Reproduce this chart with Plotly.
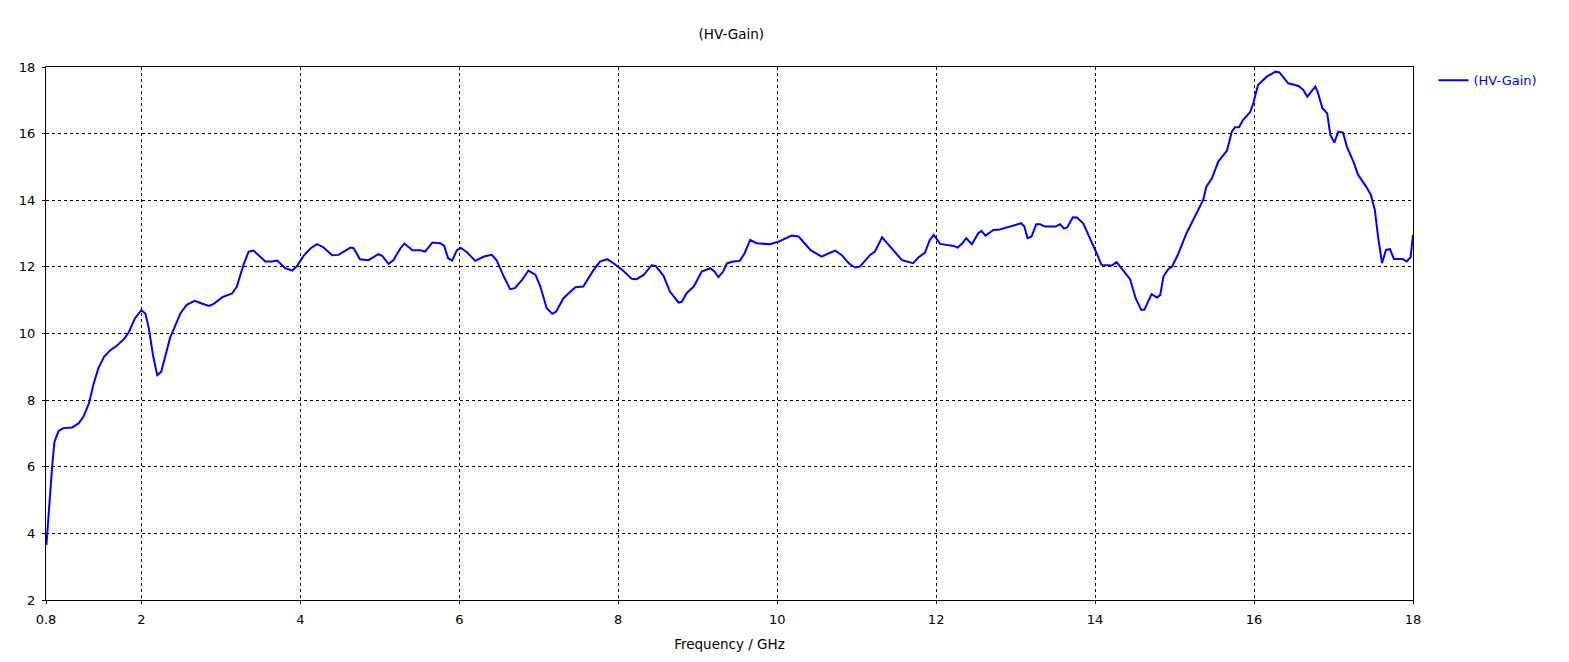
import plotly.graph_objects as go

# HV-Gain trace (frequency in GHz, gain)
freq = [0.805, 0.82, 0.846, 0.877, 0.906, 0.96, 1.02, 1.13, 1.21, 1.27, 1.34, 1.40, 1.46, 1.53,
        1.61, 1.69, 1.78, 1.84, 1.92, 2.0, 2.05, 2.09, 2.15, 2.2, 2.25, 2.30, 2.36, 2.43, 2.49,
        2.57, 2.67, 2.76, 2.85, 2.91, 3.02, 3.14, 3.2, 3.29, 3.35, 3.41, 3.48, 3.56, 3.64, 3.71,
        3.81, 3.90, 3.96, 4.04, 4.13, 4.21, 4.29, 4.40, 4.48, 4.57, 4.63, 4.67, 4.75, 4.86, 4.98,
        5.03, 5.11, 5.17, 5.26, 5.31, 5.41, 5.51, 5.57, 5.66, 5.76, 5.81, 5.86, 5.91, 5.97, 6.02,
        6.10, 6.2, 6.31, 6.41, 6.47, 6.56, 6.64, 6.70, 6.79, 6.87, 6.96, 7.02, 7.10, 7.17, 7.22,
        7.31, 7.46, 7.56, 7.69, 7.77, 7.86, 7.94, 8.05, 8.17, 8.23, 8.32, 8.42, 8.47, 8.57, 8.65,
        8.76, 8.80, 8.86, 8.95, 9.05, 9.16, 9.21, 9.26, 9.32, 9.37, 9.45, 9.53, 9.59, 9.66, 9.74,
        9.91, 10.02, 10.18, 10.27, 10.42, 10.56, 10.65, 10.73, 10.81, 10.90, 10.98, 11.04, 11.17,
        11.23, 11.32, 11.38, 11.46, 11.57, 11.71, 11.78, 11.86, 11.92, 11.97, 12.05, 12.22, 12.27,
        12.33, 12.38, 12.45, 12.53, 12.57, 12.62, 12.72, 12.80, 12.93, 13.07, 13.11, 13.15, 13.20,
        13.26, 13.31, 13.37, 13.50, 13.56, 13.61, 13.65, 13.72, 13.77, 13.85, 13.94, 14.02, 14.08,
        14.21, 14.27, 14.36, 14.44, 14.51, 14.58, 14.62, 14.71, 14.78, 14.82, 14.86, 14.92, 14.97,
        15.05, 15.15, 15.28, 15.36, 15.40, 15.47, 15.55, 15.66, 15.72, 15.76, 15.81, 15.86, 15.95,
        15.99, 16.05, 16.16, 16.27, 16.32, 16.43, 16.56, 16.62, 16.67, 16.77, 16.80, 16.86, 16.92,
        16.96, 17.01, 17.06, 17.12, 17.17, 17.25, 17.31, 17.41, 17.47, 17.52, 17.56, 17.61, 17.66,
        17.71, 17.76, 17.87, 17.92, 17.97, 18.0]
gain = [3.65, 4.2, 5.2, 6.0, 6.75, 7.08, 7.16, 7.18, 7.3, 7.5, 7.9, 8.5, 8.96, 9.3,
        9.5, 9.63, 9.83, 10.03, 10.46, 10.7, 10.6, 10.2, 9.3, 8.75, 8.85, 9.3, 9.86, 10.26, 10.6,
        10.86, 10.98, 10.9, 10.83, 10.89, 11.09, 11.2, 11.4, 12.1, 12.46, 12.49, 12.33, 12.16, 12.16, 12.19,
        11.96, 11.89, 12.03, 12.33, 12.56, 12.68, 12.59, 12.35, 12.36, 12.49, 12.58, 12.56, 12.23, 12.2, 12.38,
        12.33, 12.09, 12.2, 12.56, 12.7, 12.5, 12.5, 12.46, 12.73, 12.71, 12.63, 12.26, 12.19, 12.5, 12.57,
        12.43, 12.18, 12.31, 12.36, 12.2, 11.71, 11.33, 11.36, 11.61, 11.89, 11.76, 11.41, 10.76, 10.59, 10.66,
        11.06, 11.39, 11.41, 11.91, 12.16, 12.23, 12.11, 11.91, 11.64, 11.63, 11.76, 12.05, 12.03, 11.73, 11.26,
        10.93, 10.95, 11.21, 11.41, 11.86, 11.96, 11.86, 11.69, 11.86, 12.11, 12.16, 12.18, 12.41, 12.81, 12.71,
        12.68, 12.76, 12.94, 12.91, 12.5, 12.31, 12.41, 12.49, 12.36, 12.11, 11.98, 12.01, 12.36,
        12.46, 12.89, 12.71, 12.5, 12.2, 12.11, 12.29, 12.43, 12.81, 12.96, 12.69, 12.63, 12.58,
        12.71, 12.86, 12.68, 13.01, 13.08, 12.94, 13.11, 13.12, 13.21, 13.31, 13.21, 12.86, 12.91,
        13.28, 13.28, 13.21, 13.21, 13.28, 13.15, 13.19, 13.49, 13.48, 13.31, 12.86, 12.41, 12.06,
        12.04, 12.14, 11.86, 11.63, 11.06, 10.71, 10.71, 11.18, 11.08, 11.16, 11.71, 11.93, 12.01,
        12.41, 13.01, 13.61, 14.01, 14.41, 14.66, 15.16, 15.49, 16.06, 16.19, 16.19, 16.41, 16.64,
        16.91, 17.46, 17.71, 17.86, 17.84, 17.51, 17.43, 17.31, 17.11, 17.41, 17.26, 16.76, 16.61,
        15.96, 15.73, 16.06, 16.03, 15.59, 15.16, 14.76, 14.41, 14.16, 13.71, 12.91, 12.11, 12.51,
        12.53, 12.24, 12.24, 12.16, 12.29, 12.96]

x_ticks = [0.8, 2, 4, 6, 8, 10, 12, 14, 16, 18]
x_ticktext = ["0.8", "2", "4", "6", "8", "10", "12", "14", "16", "18"]
y_ticks = [2, 4, 6, 8, 10, 12, 14, 16, 18]

fig = go.Figure()
fig.add_trace(go.Scatter(x=freq, y=gain, mode="lines", name="(HV-Gain)",
                         line=dict(color="#0000ff", width=2)))

axis_style = dict(showline=True, linecolor="black", linewidth=1, mirror=True,
                  showgrid=True, gridcolor="black", gridwidth=1, griddash="3px,3px",
                  ticks="outside", ticklen=3, tickcolor="black", zeroline=False,
                  ticklabelstandoff=4, tickfont=dict(color="black", size=13))

fig.update_xaxes(range=[0.8, 18], tickvals=x_ticks, ticktext=x_ticktext,
                 title=dict(text="Frequency / GHz", standoff=13, font=dict(size=13.5, color="black")),
                 **axis_style)
fig.update_yaxes(range=[2, 18], tickvals=y_ticks, **axis_style)

# page body adds an 8px offset, so margins are trimmed to compensate
fig.update_layout(
    width=1569, height=662,
    margin=dict(l=38, r=164, t=59, b=70),
    paper_bgcolor="white", plot_bgcolor="white",
    font=dict(family="DejaVu Sans", size=13, color="black"),
    title=dict(text="(HV-Gain)", x=0.461, xanchor="center", y=0.961, yanchor="middle",
               font=dict(size=13.5, color="black")),
    showlegend=True,
    legend=dict(x=1.015, y=1.003, xanchor="left", yanchor="top", bgcolor="rgba(0,0,0,0)",
                font=dict(color="#0000ff", size=13)),
)

fig.write_html("out.html")
